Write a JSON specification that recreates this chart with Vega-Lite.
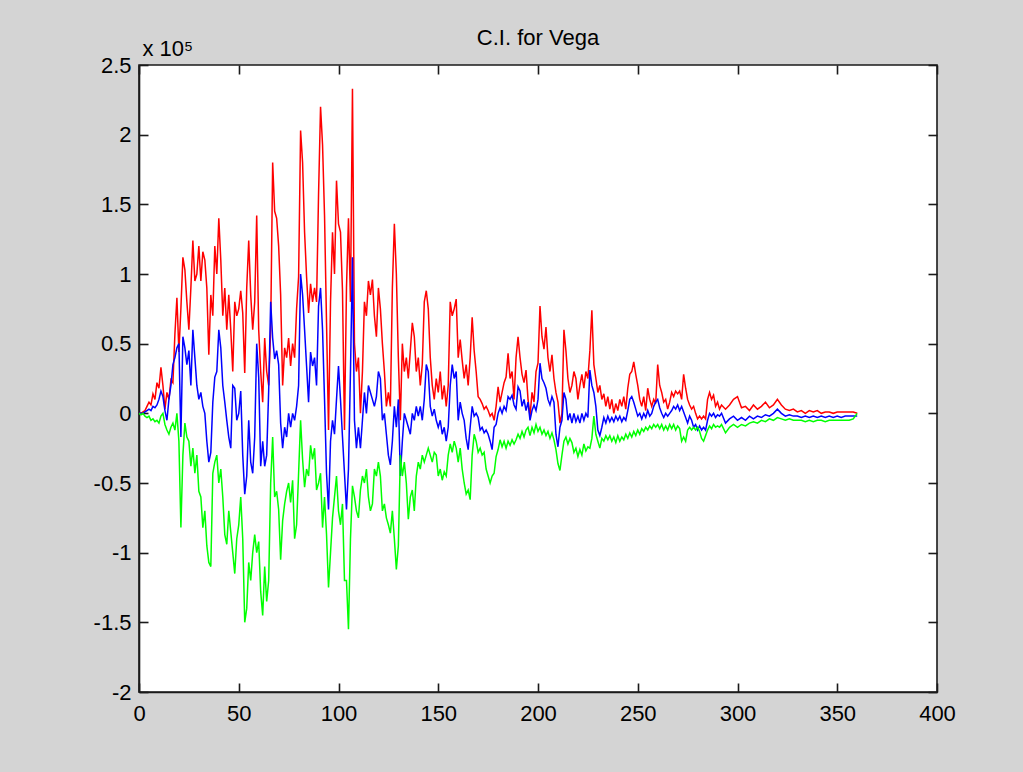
{
"$schema":"https://vega.github.io/schema/vega-lite/v6.json",
"width":798,"height":627,
"autosize":{"type":"none"},
"padding":{"left":139,"top":65,"right":86,"bottom":80},
"background":"#d4d4d4",
"title":{"text":"C.I. for Vega","font":"Liberation Sans","fontSize":22,"fontWeight":"normal","color":"#000000","anchor":"middle","frame":"group","offset":-13},
"config":{"view":{"fill":"#ffffff","stroke":"#1a1a1a","strokeWidth":1.6}},
"data":{"values":[
{"x":0,"upper":0,"est":0,"lower":0},
{"x":1,"upper":0,"est":0,"lower":-1000},
{"x":2,"upper":1000,"est":0,"lower":0},
{"x":3,"upper":2000,"est":1000,"lower":-2000},
{"x":4,"upper":5000,"est":2000,"lower":-3000},
{"x":5,"upper":8000,"est":3000,"lower":-2000},
{"x":6,"upper":6000,"est":2000,"lower":-5000},
{"x":7,"upper":14000,"est":5000,"lower":-4000},
{"x":8,"upper":10000,"est":4000,"lower":-6000},
{"x":9,"upper":22000,"est":6000,"lower":-5000},
{"x":10,"upper":18000,"est":10000,"lower":-7000},
{"x":11,"upper":33000,"est":16000,"lower":-2000},
{"x":12,"upper":20000,"est":12000,"lower":0},
{"x":13,"upper":3000,"est":2000,"lower":-8000},
{"x":14,"upper":15000,"est":-5000,"lower":-12000},
{"x":15,"upper":10000,"est":10000,"lower":-15000},
{"x":16,"upper":24000,"est":20000,"lower":-10000},
{"x":17,"upper":22000,"est":35000,"lower":-7000},
{"x":18,"upper":57000,"est":40000,"lower":-12000},
{"x":19,"upper":83000,"est":47000,"lower":0},
{"x":20,"upper":44000,"est":50000,"lower":-20000},
{"x":21,"upper":75000,"est":-17000,"lower":-82000},
{"x":22,"upper":112000,"est":55000,"lower":-30000},
{"x":23,"upper":103000,"est":47000,"lower":-7000},
{"x":24,"upper":80000,"est":35000,"lower":-17000},
{"x":25,"upper":60000,"est":45000,"lower":-20000},
{"x":26,"upper":90000,"est":20000,"lower":-38000},
{"x":27,"upper":124000,"est":60000,"lower":-25000},
{"x":28,"upper":95000,"est":40000,"lower":-43000},
{"x":29,"upper":100000,"est":20000,"lower":-30000},
{"x":30,"upper":120000,"est":10000,"lower":-56000},
{"x":31,"upper":95000,"est":15000,"lower":-60000},
{"x":32,"upper":116000,"est":5000,"lower":-82000},
{"x":33,"upper":110000,"est":0,"lower":-70000},
{"x":34,"upper":90000,"est":-20000,"lower":-95000},
{"x":35,"upper":42000,"est":-35000,"lower":-107000},
{"x":36,"upper":85000,"est":-28000,"lower":-110000},
{"x":37,"upper":70000,"est":8000,"lower":-43000},
{"x":38,"upper":120000,"est":26000,"lower":-35000},
{"x":39,"upper":100000,"est":30000,"lower":-30000},
{"x":40,"upper":140000,"est":60000,"lower":-50000},
{"x":41,"upper":110000,"est":47000,"lower":-40000},
{"x":42,"upper":70000,"est":20000,"lower":-60000},
{"x":43,"upper":90000,"est":8000,"lower":-87000},
{"x":44,"upper":60000,"est":-5000,"lower":-94000},
{"x":45,"upper":85000,"est":-17000,"lower":-70000},
{"x":46,"upper":60000,"est":-25000,"lower":-85000},
{"x":47,"upper":30000,"est":20000,"lower":-100000},
{"x":48,"upper":80000,"est":18000,"lower":-115000},
{"x":49,"upper":70000,"est":-5000,"lower":-90000},
{"x":50,"upper":75000,"est":0,"lower":-80000},
{"x":51,"upper":88000,"est":16000,"lower":-60000},
{"x":52,"upper":72000,"est":-30000,"lower":-90000},
{"x":53,"upper":29000,"est":-58000,"lower":-150000},
{"x":54,"upper":90000,"est":-45000,"lower":-140000},
{"x":55,"upper":124000,"est":-5000,"lower":-107000},
{"x":56,"upper":85000,"est":-35000,"lower":-120000},
{"x":57,"upper":60000,"est":-43000,"lower":-100000},
{"x":58,"upper":80000,"est":-17000,"lower":-87000},
{"x":59,"upper":142000,"est":50000,"lower":-100000},
{"x":60,"upper":60000,"est":26000,"lower":-92000},
{"x":61,"upper":30000,"est":-38000,"lower":-128000},
{"x":62,"upper":8000,"est":-20000,"lower":-145000},
{"x":63,"upper":54000,"est":-38000,"lower":-110000},
{"x":64,"upper":30000,"est":-30000,"lower":-135000},
{"x":65,"upper":20000,"est":16000,"lower":-120000},
{"x":66,"upper":60000,"est":80000,"lower":-50000},
{"x":67,"upper":180000,"est":54000,"lower":-17000},
{"x":68,"upper":145000,"est":39000,"lower":-60000},
{"x":69,"upper":140000,"est":45000,"lower":-56000},
{"x":70,"upper":120000,"est":35000,"lower":-69000},
{"x":71,"upper":85000,"est":-7000,"lower":-105000},
{"x":72,"upper":20000,"est":-25000,"lower":-77000},
{"x":73,"upper":47000,"est":-10000,"lower":-65000},
{"x":74,"upper":40000,"est":-17000,"lower":-56000},
{"x":75,"upper":54000,"est":0,"lower":-50000},
{"x":76,"upper":34000,"est":-10000,"lower":-64000},
{"x":77,"upper":50000,"est":0,"lower":-48000},
{"x":78,"upper":40000,"est":-5000,"lower":-90000},
{"x":79,"upper":75000,"est":5000,"lower":-80000},
{"x":80,"upper":98000,"est":20000,"lower":-43000},
{"x":81,"upper":203000,"est":100000,"lower":-5000},
{"x":82,"upper":180000,"est":85000,"lower":-33000},
{"x":83,"upper":130000,"est":60000,"lower":-53000},
{"x":84,"upper":98000,"est":34000,"lower":-40000},
{"x":85,"upper":72000,"est":8000,"lower":-45000},
{"x":86,"upper":93000,"est":44000,"lower":-23000},
{"x":87,"upper":80000,"est":34000,"lower":-33000},
{"x":88,"upper":90000,"est":40000,"lower":-25000},
{"x":89,"upper":80000,"est":20000,"lower":-55000},
{"x":90,"upper":157000,"est":77000,"lower":-50000},
{"x":91,"upper":220000,"est":90000,"lower":-43000},
{"x":92,"upper":193000,"est":60000,"lower":-82000},
{"x":93,"upper":142000,"est":10000,"lower":-60000},
{"x":94,"upper":65000,"est":-43000,"lower":-87000},
{"x":95,"upper":-12000,"est":-69000,"lower":-125000},
{"x":96,"upper":80000,"est":-20000,"lower":-100000},
{"x":97,"upper":130000,"est":-5000,"lower":-75000},
{"x":98,"upper":100000,"est":-15000,"lower":-60000},
{"x":99,"upper":167000,"est":10000,"lower":-45000},
{"x":100,"upper":136000,"est":34000,"lower":-70000},
{"x":101,"upper":130000,"est":10000,"lower":-80000},
{"x":102,"upper":88000,"est":-17000,"lower":-65000},
{"x":103,"upper":-12000,"est":-43000,"lower":-120000},
{"x":104,"upper":90000,"est":-69000,"lower":-120000},
{"x":105,"upper":140000,"est":-40000,"lower":-155000},
{"x":106,"upper":80000,"est":30000,"lower":-90000},
{"x":107,"upper":233000,"est":112000,"lower":-52000},
{"x":108,"upper":50000,"est":-5000,"lower":-60000},
{"x":109,"upper":30000,"est":-25000,"lower":-70000},
{"x":110,"upper":40000,"est":-10000,"lower":-75000},
{"x":111,"upper":0,"est":-25000,"lower":-55000},
{"x":112,"upper":30000,"est":-5000,"lower":-45000},
{"x":113,"upper":80000,"est":15000,"lower":-50000},
{"x":114,"upper":70000,"est":0,"lower":-40000},
{"x":115,"upper":95000,"est":20000,"lower":-60000},
{"x":116,"upper":85000,"est":15000,"lower":-70000},
{"x":117,"upper":96000,"est":10000,"lower":-65000},
{"x":118,"upper":70000,"est":5000,"lower":-40000},
{"x":119,"upper":55000,"est":12000,"lower":-45000},
{"x":120,"upper":90000,"est":30000,"lower":-35000},
{"x":121,"upper":75000,"est":25000,"lower":-45000},
{"x":122,"upper":50000,"est":-5000,"lower":-70000},
{"x":123,"upper":30000,"est":0,"lower":-65000},
{"x":124,"upper":5000,"est":-15000,"lower":-75000},
{"x":125,"upper":15000,"est":-30000,"lower":-80000},
{"x":126,"upper":5000,"est":-37000,"lower":-86000},
{"x":127,"upper":90000,"est":-20000,"lower":-70000},
{"x":128,"upper":136000,"est":5000,"lower":-90000},
{"x":129,"upper":100000,"est":-10000,"lower":-112000},
{"x":130,"upper":40000,"est":10000,"lower":-95000},
{"x":131,"upper":-5000,"est":-45000,"lower":-30000},
{"x":132,"upper":50000,"est":-20000,"lower":-45000},
{"x":133,"upper":30000,"est":0,"lower":-35000},
{"x":134,"upper":40000,"est":-5000,"lower":-50000},
{"x":135,"upper":25000,"est":-10000,"lower":-76000},
{"x":136,"upper":45000,"est":-15000,"lower":-60000},
{"x":137,"upper":65000,"est":0,"lower":-55000},
{"x":138,"upper":55000,"est":-5000,"lower":-70000},
{"x":139,"upper":30000,"est":5000,"lower":-45000},
{"x":140,"upper":40000,"est":-2000,"lower":-35000},
{"x":141,"upper":20000,"est":5000,"lower":-40000},
{"x":142,"upper":35000,"est":-5000,"lower":-30000},
{"x":143,"upper":80000,"est":10000,"lower":-35000},
{"x":144,"upper":88000,"est":35000,"lower":-30000},
{"x":145,"upper":75000,"est":30000,"lower":-25000},
{"x":146,"upper":40000,"est":5000,"lower":-30000},
{"x":147,"upper":20000,"est":-2000,"lower":-35000},
{"x":148,"upper":10000,"est":3000,"lower":-28000},
{"x":149,"upper":25000,"est":-5000,"lower":-30000},
{"x":150,"upper":15000,"est":-10000,"lower":-45000},
{"x":151,"upper":30000,"est":-5000,"lower":-40000},
{"x":152,"upper":10000,"est":-15000,"lower":-48000},
{"x":153,"upper":20000,"est":-10000,"lower":-42000},
{"x":154,"upper":5000,"est":-20000,"lower":-45000},
{"x":155,"upper":20000,"est":-10000,"lower":-30000},
{"x":156,"upper":80000,"est":20000,"lower":-22000},
{"x":157,"upper":70000,"est":35000,"lower":-28000},
{"x":158,"upper":75000,"est":25000,"lower":-20000},
{"x":159,"upper":82000,"est":30000,"lower":-25000},
{"x":160,"upper":40000,"est":-5000,"lower":-35000},
{"x":161,"upper":53000,"est":8000,"lower":-25000},
{"x":162,"upper":38000,"est":0,"lower":-40000},
{"x":163,"upper":25000,"est":-5000,"lower":-50000},
{"x":164,"upper":35000,"est":-18000,"lower":-58000},
{"x":165,"upper":20000,"est":-26000,"lower":-55000},
{"x":166,"upper":40000,"est":-10000,"lower":-62000},
{"x":167,"upper":69000,"est":5000,"lower":-30000},
{"x":168,"upper":45000,"est":-2000,"lower":-15000},
{"x":169,"upper":30000,"est":0,"lower":-20000},
{"x":170,"upper":12000,"est":-3000,"lower":-28000},
{"x":171,"upper":10000,"est":-12000,"lower":-25000},
{"x":172,"upper":7000,"est":-10000,"lower":-30000},
{"x":173,"upper":3000,"est":-14000,"lower":-28000},
{"x":174,"upper":5000,"est":-12000,"lower":-40000},
{"x":175,"upper":2000,"est":-15000,"lower":-45000},
{"x":176,"upper":-2000,"est":-20000,"lower":-50000},
{"x":177,"upper":0,"est":-26000,"lower":-45000},
{"x":178,"upper":-5000,"est":-10000,"lower":-43000},
{"x":179,"upper":5000,"est":-8000,"lower":-31000},
{"x":180,"upper":19000,"est":0,"lower":-26000},
{"x":181,"upper":8000,"est":4000,"lower":-19000},
{"x":182,"upper":15000,"est":0,"lower":-24000},
{"x":183,"upper":22000,"est":5000,"lower":-20000},
{"x":184,"upper":26000,"est":2000,"lower":-25000},
{"x":185,"upper":43000,"est":12000,"lower":-20000},
{"x":186,"upper":25000,"est":10000,"lower":-23000},
{"x":187,"upper":30000,"est":13000,"lower":-19000},
{"x":188,"upper":10000,"est":6000,"lower":-22000},
{"x":189,"upper":40000,"est":3000,"lower":-19000},
{"x":190,"upper":55000,"est":19000,"lower":-15000},
{"x":191,"upper":40000,"est":16000,"lower":-18000},
{"x":192,"upper":28000,"est":5000,"lower":-13000},
{"x":193,"upper":22000,"est":10000,"lower":-17000},
{"x":194,"upper":31000,"est":2000,"lower":-12000},
{"x":195,"upper":10000,"est":8000,"lower":-10000},
{"x":196,"upper":-2000,"est":-5000,"lower":-16000},
{"x":197,"upper":15000,"est":2000,"lower":-10000},
{"x":198,"upper":8000,"est":6000,"lower":-14000},
{"x":199,"upper":30000,"est":2000,"lower":-8000},
{"x":200,"upper":36000,"est":10000,"lower":-13000},
{"x":201,"upper":77000,"est":36000,"lower":-10000},
{"x":202,"upper":55000,"est":25000,"lower":-15000},
{"x":203,"upper":46000,"est":22000,"lower":-12000},
{"x":204,"upper":62000,"est":18000,"lower":-16000},
{"x":205,"upper":40000,"est":10000,"lower":-13000},
{"x":206,"upper":30000,"est":6000,"lower":-18000},
{"x":207,"upper":42000,"est":12000,"lower":-14000},
{"x":208,"upper":25000,"est":8000,"lower":-19000},
{"x":209,"upper":15000,"est":-15000,"lower":-26000},
{"x":210,"upper":8000,"est":-24000,"lower":-36000},
{"x":211,"upper":-7000,"est":-10000,"lower":-41000},
{"x":212,"upper":0,"est":-5000,"lower":-30000},
{"x":213,"upper":60000,"est":15000,"lower":-20000},
{"x":214,"upper":45000,"est":10000,"lower":-17000},
{"x":215,"upper":25000,"est":-5000,"lower":-22000},
{"x":216,"upper":15000,"est":0,"lower":-18000},
{"x":217,"upper":20000,"est":-7000,"lower":-21000},
{"x":218,"upper":30000,"est":0,"lower":-28000},
{"x":219,"upper":25000,"est":-6000,"lower":-25000},
{"x":220,"upper":10000,"est":-2000,"lower":-31000},
{"x":221,"upper":20000,"est":-7000,"lower":-26000},
{"x":222,"upper":28000,"est":0,"lower":-30000},
{"x":223,"upper":18000,"est":-5000,"lower":-22000},
{"x":224,"upper":30000,"est":0,"lower":-27000},
{"x":225,"upper":25000,"est":-3000,"lower":-24000},
{"x":226,"upper":45000,"est":31000,"lower":-25000},
{"x":227,"upper":74000,"est":20000,"lower":-18000},
{"x":228,"upper":35000,"est":15000,"lower":-2000},
{"x":229,"upper":25000,"est":5000,"lower":-15000},
{"x":230,"upper":15000,"est":-12000,"lower":-20000},
{"x":231,"upper":20000,"est":-16000,"lower":-25000},
{"x":232,"upper":10000,"est":-10000,"lower":-18000},
{"x":233,"upper":14000,"est":-3000,"lower":-20000},
{"x":234,"upper":5000,"est":-7000,"lower":-16000},
{"x":235,"upper":12000,"est":-2000,"lower":-19000},
{"x":236,"upper":3000,"est":-6000,"lower":-16000},
{"x":237,"upper":10000,"est":-3000,"lower":-20000},
{"x":238,"upper":0,"est":-6000,"lower":-17000},
{"x":239,"upper":7000,"est":-2000,"lower":-21000},
{"x":240,"upper":2000,"est":-5000,"lower":-16000},
{"x":241,"upper":10000,"est":-2000,"lower":-20000},
{"x":242,"upper":5000,"est":-6000,"lower":-17000},
{"x":243,"upper":12000,"est":-3000,"lower":-19000},
{"x":244,"upper":3000,"est":-5000,"lower":-15000},
{"x":245,"upper":18000,"est":2000,"lower":-18000},
{"x":246,"upper":28000,"est":10000,"lower":-14000},
{"x":247,"upper":30000,"est":12000,"lower":-17000},
{"x":248,"upper":37000,"est":8000,"lower":-13000},
{"x":249,"upper":28000,"est":3000,"lower":-16000},
{"x":250,"upper":20000,"est":-2000,"lower":-12000},
{"x":251,"upper":10000,"est":0,"lower":-15000},
{"x":252,"upper":5000,"est":-4000,"lower":-11000},
{"x":253,"upper":12000,"est":0,"lower":-13000},
{"x":254,"upper":2000,"est":-3000,"lower":-10000},
{"x":255,"upper":18000,"est":2000,"lower":-12000},
{"x":256,"upper":10000,"est":-2000,"lower":-9000},
{"x":257,"upper":5000,"est":0,"lower":-11000},
{"x":258,"upper":10000,"est":5000,"lower":-8000},
{"x":259,"upper":7000,"est":8000,"lower":-10000},
{"x":260,"upper":35000,"est":10000,"lower":-8000},
{"x":261,"upper":20000,"est":4000,"lower":-11000},
{"x":262,"upper":15000,"est":0,"lower":-8000},
{"x":263,"upper":8000,"est":-3000,"lower":-12000},
{"x":264,"upper":10000,"est":0,"lower":-9000},
{"x":265,"upper":3000,"est":-2000,"lower":-12000},
{"x":266,"upper":8000,"est":0,"lower":-8000},
{"x":267,"upper":15000,"est":2000,"lower":-11000},
{"x":268,"upper":12000,"est":5000,"lower":-8000},
{"x":269,"upper":16000,"est":3000,"lower":-12000},
{"x":270,"upper":14000,"est":6000,"lower":-9000},
{"x":271,"upper":16000,"est":2000,"lower":-11000},
{"x":272,"upper":10000,"est":5000,"lower":-20000},
{"x":273,"upper":28000,"est":1000,"lower":-17000},
{"x":274,"upper":18000,"est":-3000,"lower":-20000},
{"x":275,"upper":10000,"est":-7000,"lower":-12000},
{"x":276,"upper":6000,"est":-2000,"lower":-10000},
{"x":277,"upper":3000,"est":-5000,"lower":-12000},
{"x":278,"upper":5000,"est":-10000,"lower":-10000},
{"x":279,"upper":0,"est":-8000,"lower":-12000},
{"x":280,"upper":-4000,"est":-12000,"lower":-10000},
{"x":281,"upper":-2000,"est":-9000,"lower":-13000},
{"x":282,"upper":-4000,"est":-12000,"lower":-18000},
{"x":283,"upper":-2000,"est":-10000,"lower":-20000},
{"x":284,"upper":-4000,"est":-12000,"lower":-16000},
{"x":285,"upper":10000,"est":-5000,"lower":-12000},
{"x":286,"upper":15000,"est":0,"lower":-9000},
{"x":287,"upper":10000,"est":-2000,"lower":-11000},
{"x":288,"upper":13000,"est":0,"lower":-8000},
{"x":289,"upper":5000,"est":-3000,"lower":-10000},
{"x":290,"upper":8000,"est":-1000,"lower":-9000},
{"x":291,"upper":3000,"est":-2000,"lower":-10000},
{"x":292,"upper":6000,"est":0,"lower":-8000},
{"x":294,"upper":3000,"est":-7000,"lower":-14000},
{"x":296,"upper":6000,"est":-4000,"lower":-10000},
{"x":298,"upper":10000,"est":-2000,"lower":-8000},
{"x":300,"upper":12000,"est":-5000,"lower":-10000},
{"x":302,"upper":4000,"est":-3000,"lower":-8000},
{"x":304,"upper":5000,"est":-5000,"lower":-9000},
{"x":306,"upper":2000,"est":-2000,"lower":-7000},
{"x":308,"upper":6000,"est":-4000,"lower":-6000},
{"x":310,"upper":3000,"est":-2000,"lower":-7000},
{"x":312,"upper":5000,"est":-3000,"lower":-5000},
{"x":314,"upper":8000,"est":-1000,"lower":-6000},
{"x":316,"upper":4000,"est":-2000,"lower":-4000},
{"x":318,"upper":6000,"est":0,"lower":-5000},
{"x":320,"upper":10000,"est":3000,"lower":-3000},
{"x":322,"upper":6000,"est":0,"lower":-4000},
{"x":324,"upper":3000,"est":-2000,"lower":-5000},
{"x":326,"upper":2000,"est":-1000,"lower":-4000},
{"x":328,"upper":3000,"est":-2000,"lower":-5000},
{"x":330,"upper":1000,"est":-2000,"lower":-5000},
{"x":332,"upper":2000,"est":-3000,"lower":-5000},
{"x":334,"upper":0,"est":-2000,"lower":-6000},
{"x":336,"upper":2000,"est":-3000,"lower":-5000},
{"x":338,"upper":1000,"est":-2000,"lower":-6000},
{"x":340,"upper":2000,"est":-3000,"lower":-5000},
{"x":342,"upper":0,"est":-2000,"lower":-5000},
{"x":344,"upper":1000,"est":-3000,"lower":-6000},
{"x":346,"upper":1000,"est":-2000,"lower":-5000},
{"x":348,"upper":0,"est":-3000,"lower":-5000},
{"x":350,"upper":1000,"est":-2000,"lower":-5000},
{"x":352,"upper":1000,"est":-3000,"lower":-5000},
{"x":354,"upper":1000,"est":-2000,"lower":-5000},
{"x":356,"upper":1000,"est":-2000,"lower":-5000},
{"x":358,"upper":1000,"est":-2000,"lower":-4000},
{"x":360,"upper":0,"est":-2000,"lower":0}
]},
"layer":[
{"mark":{"type":"line","color":"#ff0000","strokeWidth":1.5,"clip":true},
 "encoding":{
  "x":{"field":"x","type":"quantitative","scale":{"domain":[0,400],"nice":false,"zero":false},
   "axis":{"orient":"bottom","values":[0,50,100,150,200,250,300,350,400],"title":null,"grid":false,"tickSize":-9,"tickWidth":1.6,"tickColor":"#1a1a1a","domainColor":"#1a1a1a","domainWidth":1.6,"labelPadding":20,"labelFont":"Liberation Sans","labelFontSize":22,"labelColor":"#000000","labelFlush":false,"labelOverlap":false}},
  "y":{"field":"upper","type":"quantitative","scale":{"domain":[-200000,250000],"nice":false,"zero":false},
   "axis":{"orient":"left","values":[-200000,-150000,-100000,-50000,0,50000,100000,150000,200000,250000],"labelExpr":"datum.value/100000 + ''","grid":false,"tickSize":-9,"tickWidth":1.6,"tickColor":"#1a1a1a","domainColor":"#1a1a1a","domainWidth":1.6,"labelPadding":17,"labelFont":"Liberation Sans","labelFontSize":22,"labelColor":"#000000","labelFlush":false,"labelOverlap":false,
    "title":"x 10⁵","titleAngle":0,"titleX":3,"titleY":-10,"titleAlign":"left","titleBaseline":"alphabetic","titleFont":"Liberation Sans","titleFontSize":22,"titleFontWeight":"normal","titleColor":"#000000"}}}},
{"mark":{"type":"line","color":"#0000ff","strokeWidth":1.5,"clip":true},
 "encoding":{
  "x":{"field":"x","type":"quantitative","axis":null},
  "y":{"field":"est","type":"quantitative","axis":null}}},
{"mark":{"type":"line","color":"#00ff00","strokeWidth":1.5,"clip":true},
 "encoding":{
  "x":{"field":"x","type":"quantitative",
   "axis":{"orient":"top","values":[0,50,100,150,200,250,300,350,400],"labels":false,"title":null,"grid":false,"domain":false,"tickSize":-9,"tickWidth":1.6,"tickColor":"#1a1a1a"}},
  "y":{"field":"lower","type":"quantitative",
   "axis":{"orient":"right","values":[-200000,-150000,-100000,-50000,0,50000,100000,150000,200000,250000],"labels":false,"title":null,"grid":false,"domain":false,"tickSize":-9,"tickWidth":1.6,"tickColor":"#1a1a1a"}}}}
],
"resolve":{"axis":{"x":"independent","y":"independent"}}
}
